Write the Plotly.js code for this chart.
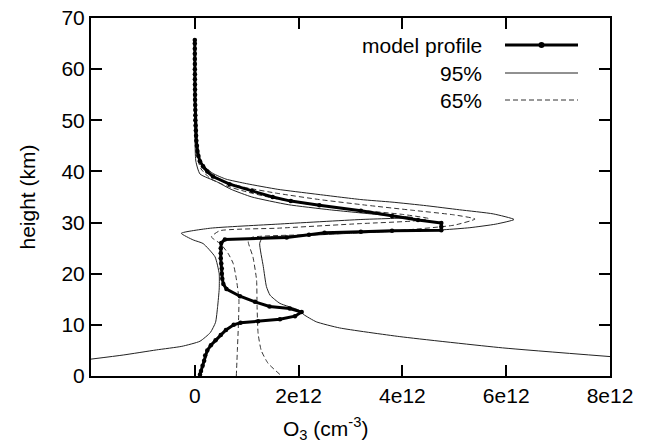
<!DOCTYPE html>
<html>
<head>
<meta charset="utf-8">
<script src="https://cdn.plot.ly/plotly-3.0.1.min.js"></script>
<style>html,body{margin:0;padding:0;background:#fff;}#chart{width:661px;height:442px;}</style>
</head>
<body>
<div id="chart"></div>
<script>
// Units: O3 in 1e12 cm^-3, height in km
const model_height = [0.3,1,2,3,4,5,6,7,8,9,10,10.4,10.7,11.1,11.7,12.5,13.2,13.6,14.5,15.6,17,18,19,20,21,22,23,24,25,26,26.7,27.1,27.6,28.0,28.2,28.4,28.5,29.2,29.9,30.5,31.3,32.3,33.4,34.2,35.0,36.2,37.5,39,40,41,42,43,44,45,46,47,48,49,50,51,52,53,54,55,56,57,58,59,60,61,62,63,64,65,65.7];
const model_o3 = [0.1,0.12,0.15,0.18,0.2,0.24,0.31,0.4,0.5,0.6,0.75,0.88,1.22,1.64,1.93,2.06,1.83,1.44,1.16,0.87,0.61,0.55,0.53,0.52,0.52,0.51,0.5,0.5,0.5,0.51,0.58,1.77,2.2,2.5,3.2,3.8,4.75,4.75,4.75,4.3,3.8,3.2,2.4,1.85,1.5,1.1,0.67,0.35,0.24,0.16,0.1,0.07,0.05,0.04,0.03,0.025,0.02,0.015,0.01,0.01,0.01,0.008,0.005,0.005,0.004,0.003,0.002,0.002,0.001,0.001,0,0,0,0,0];

const hi95_height = [3.8,5.5,7.7,9.4,10.6,12.0,12.9,14.2,15.8,17.5,21.4,25.9,27.0,27.4,27.9,28.3,28.6,29.0,29.7,30.6,31.7,32.5,33.3,34.0,34.5,35.6,36.5,37.6,38.5,39.6,40.8,42,44,48,55,65];
const hi95_o3 = [8.0,5.93,3.95,2.79,2.34,2.1,2.0,1.64,1.45,1.38,1.32,1.25,1.3,2.0,3.0,4.0,4.8,5.3,5.8,6.15,5.75,5.1,4.46,3.8,3.2,2.3,1.6,1.0,0.6,0.35,0.2,0.1,0.05,0.02,0.01,0];

const lo95_height = [3.3,4.1,5.1,5.8,6.8,8.5,10.5,13.6,17,20,23.3,25.9,26.6,27.9,28.9,29.7,30.6,31.0,31.5,32.5,33.5,35.0,36.5,38.0,39.5,42,50,65];
const lo95_o3 = [-2.0,-1.38,-0.74,-0.25,0.1,0.3,0.4,0.44,0.47,0.47,0.39,0.16,-0.03,-0.26,0.3,1.6,3.2,4.2,3.6,2.6,1.8,1.1,0.7,0.42,0.1,0.02,0,0];

const hi65_height = [0.3,2.5,5.0,8.3,13.6,18.8,23.3,26.3,27.1,27.7,28.5,29.5,30.7,31.5,32.4,33.4,34.5,35.7,36.8,38,39.2,41,44,50];
const hi65_o3 = [1.64,1.41,1.28,1.22,1.2,1.19,1.12,1.03,1.1,2.5,4.0,5.0,5.4,5.0,4.2,3.3,2.4,1.6,1.0,0.55,0.3,0.12,0.04,0];

const lo65_height = [0,5,10,15,19,22,24,25.8,27.2,28.4,28.9,29.8,30.3,30.8,31.6,32.6,33.6,34.8,36.0,37.2,38.6,40.5,43,50];
const lo65_o3 = [0.8,0.82,0.84,0.85,0.8,0.74,0.64,0.5,0.32,0.48,1.6,3.2,4.2,4.5,4.0,3.0,2.2,1.5,1.0,0.6,0.3,0.12,0.04,0];

const xtick_vals = [0,2,4,6,8];
const xtick_text = ['0','2e12','4e12','6e12','8e12'];
const ytick_vals = [0,10,20,30,40,50,60,70];
const legend_labels = ['model profile','95%','65%'];

const FONT = '"Liberation Sans", Arial, Helvetica, sans-serif';
const thin = {color:'#222', width:1, shape:'spline', smoothing:0.5};
const dashed = {color:'#333', width:1, dash:'5px,3px', shape:'spline', smoothing:0.5};

const traces = [
  {x: lo95_o3, y: lo95_height, mode:'lines', line: thin, hoverinfo:'skip'},
  {x: hi95_o3, y: hi95_height, mode:'lines', line: thin, hoverinfo:'skip'},
  {x: lo65_o3, y: lo65_height, mode:'lines', line: dashed, hoverinfo:'skip'},
  {x: hi65_o3, y: hi65_height, mode:'lines', line: dashed, hoverinfo:'skip'},
  {x: model_o3, y: model_height, mode:'lines+markers', line:{color:'#000', width:3}, marker:{color:'#000', size:4.5}}
];

// plot frame in pixels
const L = 91, R = 610, T = 18, B = 376;
const px = v => (v - L) / (R - L);
const py = v => (B - v) / (B - T);

const rowsY = [45, 73, 100];
const annotations = legend_labels.map((t,i) => ({
  text: t, xref:'paper', yref:'paper', x: px(484), y: py(rowsY[i]),
  xanchor:'right', yanchor:'middle', showarrow:false, font:{family:FONT, size:21, color:'#000'}
}));
annotations.push({
  text:'O<sub>3</sub> (cm<sup>-3</sup>)', xref:'paper', yref:'paper', x: px(325), y: py(428),
  xanchor:'center', yanchor:'middle', showarrow:false, font:{family:FONT, size:21, color:'#000'}
});

const shapes = [
  {type:'line', xref:'paper', yref:'paper', x0:px(505), x1:px(578), y0:py(rowsY[0]), y1:py(rowsY[0]), line:{color:'#000', width:3}},
  {type:'circle', xref:'paper', yref:'paper', x0:px(538.5), x1:px(544.5), y0:py(rowsY[0]+3), y1:py(rowsY[0]-3), fillcolor:'#000', line:{color:'#000', width:0}},
  {type:'line', xref:'paper', yref:'paper', x0:px(505), x1:px(578), y0:py(rowsY[1]), y1:py(rowsY[1]), line:{color:'#222', width:1}},
  {type:'line', xref:'paper', yref:'paper', x0:px(505), x1:px(578), y0:py(rowsY[2]), y1:py(rowsY[2]), line:{color:'#333', width:1, dash:'5px,3px'}}
];

const axisCommon = {
  showline:true, linecolor:'#000', linewidth:2, mirror:'ticks',
  ticks:'inside', ticklen:11, tickwidth:2, tickcolor:'#000',
  showgrid:false, zeroline:false, tickfont:{family:FONT, size:21, color:'#000'}
};

const layout = {
  width:661, height:442,
  margin:{l:L, r:661-R, t:T, b:442-B, pad:0},
  paper_bgcolor:'#fff', plot_bgcolor:'#fff',
  showlegend:false,
  font:{family:FONT, color:'#000'},
  xaxis: Object.assign({}, axisCommon, {range:[-2,8], tickmode:'array', tickvals:xtick_vals, ticktext:xtick_text}),
  yaxis: Object.assign({}, axisCommon, {range:[0,70], tickmode:'array', tickvals:ytick_vals,
    title:{text:'height (km)', font:{family:FONT, size:21, color:'#000'}, standoff:20}}),
  annotations: annotations,
  shapes: shapes
};

Plotly.newPlot('chart', traces, layout, {staticPlot:true, displayModeBar:false});
</script>
</body>
</html>
